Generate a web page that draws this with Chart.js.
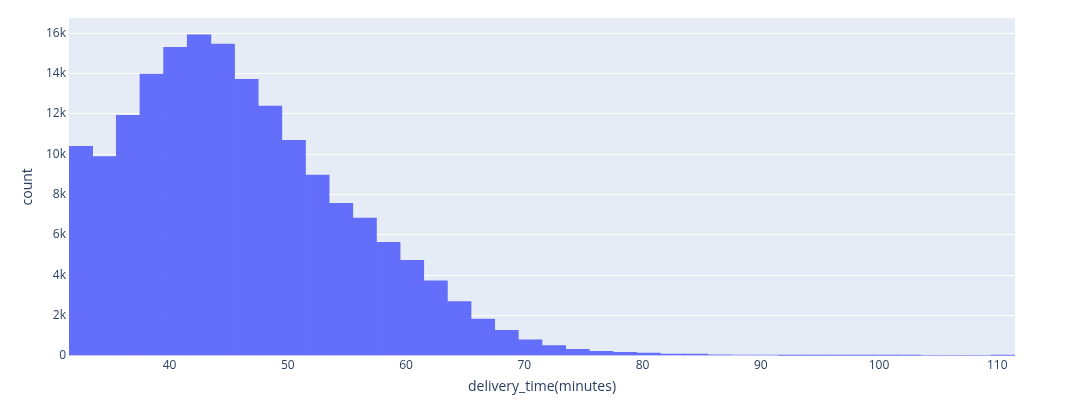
<!DOCTYPE html>
<html>
<head>
<meta charset="utf-8">
<script src="https://cdn.jsdelivr.net/npm/chart.js@4"></script>
<style>
  html, body { margin: 0; padding: 0; background: #ffffff; }
  #wrap { width: 1084px; height: 401px; }
</style>
</head>
<body>
<div id="wrap"><canvas id="c" width="1084" height="401"></canvas></div>
<script>
// bin centres (minutes), bin width 2
const binCenters = [32.5, 34.5, 36.5, 38.5, 40.5, 42.5, 44.5, 46.5, 48.5, 50.5,
                    52.5, 54.5, 56.5, 58.5, 60.5, 62.5, 64.5, 66.5, 68.5, 70.5,
                    72.5, 74.5, 76.5, 78.5, 80.5, 82.5, 84.5, 86.5, 88.5, 90.5,
                    92.5, 94.5, 96.5, 98.5, 100.5, 102.5, 104.5, 106.5, 108.5, 110.5];
const counts = [10390, 9880, 11930, 13980, 15300, 15920, 15470, 13720, 12390, 10690,
                8970, 7560, 6830, 5630, 4730, 3710, 2680, 1820, 1260, 790,
                500, 320, 220, 170, 125, 80, 75, 40, 30, 25,
                5, 3, 2, 1, 1, 1, 0, 0, 0, 1];
const xTicks = [40, 50, 60, 70, 80, 90, 100, 110];
const yTicks = [0, 2000, 4000, 6000, 8000, 10000, 12000, 14000, 16000];
const xRange = [31.5, 111.5];
const yMax = 16760;
const xTitle = 'delivery_time(minutes)';
const yTitle = 'count';

const points = binCenters.map((x, i) => ({ x: x, y: counts[i] }));

const bgPlugin = {
  id: 'plotBg',
  beforeDraw(chart) {
    const { ctx, chartArea: a } = chart;
    ctx.save();
    ctx.fillStyle = '#e5ecf6';
    ctx.fillRect(a.left, a.top, a.right - a.left, a.bottom - a.top);
    ctx.restore();
  }
};

const fontTick = { family: '"Open Sans", sans-serif', size: 12 };
const fontTitle = { family: '"Open Sans", sans-serif', size: 14 };
const textColor = '#2a3f5f';

new Chart(document.getElementById('c'), {
  type: 'bar',
  data: {
    datasets: [{
      data: points,
      backgroundColor: '#636efa',
      borderWidth: 0,
      barPercentage: 1,
      categoryPercentage: 1
    }]
  },
  options: {
    responsive: false,
    animation: false,
    devicePixelRatio: 1,
    layout: { padding: { top: 18, right: 69, left: 0, bottom: 0 } },
    plugins: { legend: { display: false }, tooltip: { enabled: false } },
    scales: {
      x: {
        type: 'linear',
        min: xRange[0],
        max: xRange[1],
        offset: false,
        grid: { display: false, offset: false, drawTicks: false },
        border: { display: false },
        afterBuildTicks: (s) => { s.ticks = xTicks.map(v => ({ value: v })); },
        afterFit: (s) => { s.height = 45.3; },
        ticks: { font: fontTick, color: textColor, padding: 3, maxRotation: 0, autoSkip: false },
        title: { display: true, text: xTitle, font: fontTitle, color: textColor, padding: { top: 0, bottom: 6 } }
      },
      y: {
        type: 'linear',
        min: 0,
        max: yMax,
        grid: { color: '#ffffff', lineWidth: 1, drawTicks: false },
        border: { display: false },
        afterBuildTicks: (s) => { s.ticks = yTicks.map(v => ({ value: v })); },
        afterFit: (s) => { s.width = 69; },
        ticks: {
          font: fontTick, color: textColor, padding: 3,
          callback: (v) => v === 0 ? '0' : (v / 1000) + 'k'
        },
        title: { display: true, text: yTitle, font: fontTitle, color: textColor, padding: { top: 20, bottom: 0 } }
      }
    }
  },
  plugins: [bgPlugin]
});
</script>
</body>
</html>
